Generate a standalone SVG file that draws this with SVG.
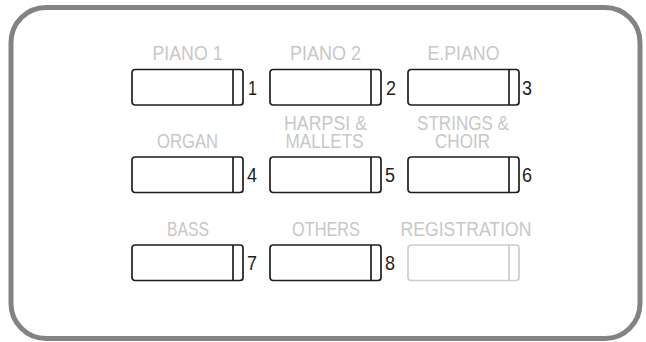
<svg xmlns="http://www.w3.org/2000/svg" width="646" height="342" viewBox="0 0 646 342">
<style>
.frame{fill:#fff;stroke:#838387;stroke-width:5}
.btn{fill:#fff;stroke:#1e1e1e;stroke-width:1.7}
.btn line{stroke:#1e1e1e;stroke-width:1.7}
.btn.off{stroke:#cdcdcd}
.btn.off line{stroke:#cdcdcd}
.lbl{font-family:"Liberation Sans",Arial,sans-serif;font-size:20.5px;fill:#c8c8c8;text-anchor:middle}
.num{font-family:"Liberation Sans",Arial,sans-serif;font-size:20.5px;fill:#1e1e1e}
</style>
<defs>
<g id="b"><rect x="0" y="0" width="111" height="35.5" rx="3"/><line x1="101" y1="0" x2="101" y2="35.5"/></g>
</defs>
<rect class="frame" x="11" y="7.5" width="629" height="331" rx="35"/>
<g id="n1"><text class="lbl" x="187.5" y="60" textLength="70" lengthAdjust="spacingAndGlyphs">PIANO 1</text><g class="btn"><use href="#b" x="132" y="69.5"/></g><text class="num" x="248" y="94.5" textLength="9" lengthAdjust="spacingAndGlyphs">1</text></g>
<g id="n2"><text class="lbl" x="325.5" y="60" textLength="71" lengthAdjust="spacingAndGlyphs">PIANO 2</text><g class="btn"><use href="#b" x="270" y="69.5"/></g><text class="num" x="386" y="94.5" textLength="10" lengthAdjust="spacingAndGlyphs">2</text></g>
<g id="n3"><text class="lbl" x="463.5" y="60" textLength="72" lengthAdjust="spacingAndGlyphs">E.PIANO</text><g class="btn"><use href="#b" x="408" y="69.5"/></g><text class="num" x="522" y="94.5" textLength="10" lengthAdjust="spacingAndGlyphs">3</text></g>
<g id="n4"><text class="lbl" x="187.5" y="148" textLength="61" lengthAdjust="spacingAndGlyphs">ORGAN</text><g class="btn"><use href="#b" x="132" y="157"/></g><text class="num" x="247" y="182" textLength="10" lengthAdjust="spacingAndGlyphs">4</text></g>
<g id="n5"><text class="lbl" x="325.5" y="130" textLength="83" lengthAdjust="spacingAndGlyphs">HARPSI &amp;</text><text class="lbl" x="324.5" y="148" textLength="78" lengthAdjust="spacingAndGlyphs">MALLETS</text><g class="btn"><use href="#b" x="270" y="157"/></g><text class="num" x="385" y="182" textLength="10" lengthAdjust="spacingAndGlyphs">5</text></g>
<g id="n6"><text class="lbl" x="463" y="130" textLength="92" lengthAdjust="spacingAndGlyphs">STRINGS &amp;</text><text class="lbl" x="462.5" y="148" textLength="55" lengthAdjust="spacingAndGlyphs">CHOIR</text><g class="btn"><use href="#b" x="408" y="157"/></g><text class="num" x="522" y="182" textLength="10" lengthAdjust="spacingAndGlyphs">6</text></g>
<g id="n7"><text class="lbl" x="188" y="236" textLength="42" lengthAdjust="spacingAndGlyphs">BASS</text><g class="btn"><use href="#b" x="132" y="245"/></g><text class="num" x="247" y="270" textLength="10" lengthAdjust="spacingAndGlyphs">7</text></g>
<g id="n8"><text class="lbl" x="326" y="236" textLength="68" lengthAdjust="spacingAndGlyphs">OTHERS</text><g class="btn"><use href="#b" x="270" y="245"/></g><text class="num" x="385" y="270" textLength="10" lengthAdjust="spacingAndGlyphs">8</text></g>
<g id="n9"><text class="lbl" x="466" y="236" textLength="131" lengthAdjust="spacingAndGlyphs">REGISTRATION</text><g class="btn off"><use href="#b" x="408" y="245"/></g></g>
<g id="connectors"></g>
</svg>
